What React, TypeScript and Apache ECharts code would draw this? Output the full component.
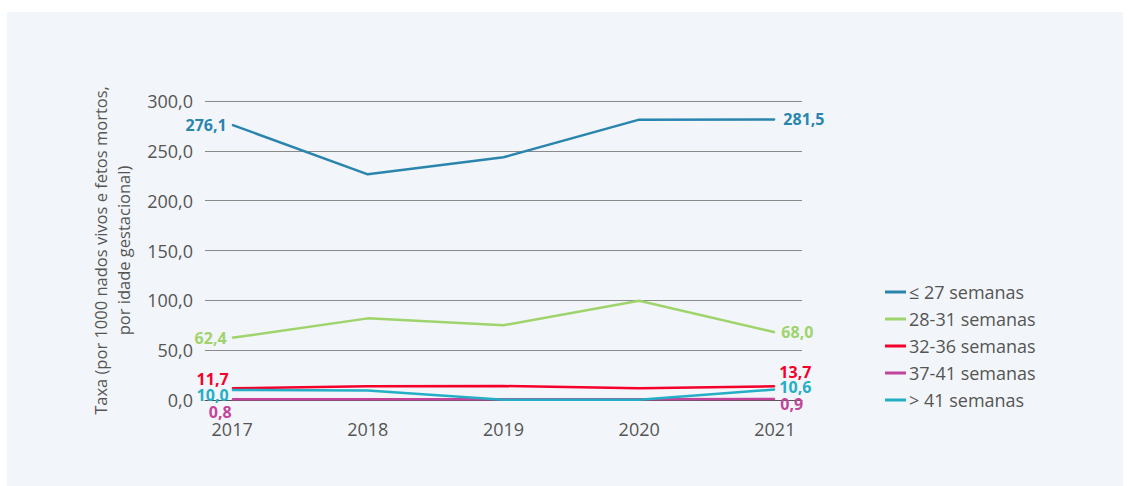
import React, { useEffect, useRef } from "react";
import * as echarts from "echarts";

const years = [2017, 2018, 2019, 2020, 2021];
const seriesNames = ["≤ 27 semanas", "28-31 semanas", "32-36 semanas", "37-41 semanas", "> 41 semanas"];
const s27 = [276.1, 226.4, 243.5, 281.3, 281.5];
const s2831 = [62.4, 81.9, 75.0, 99.6, 68.0];
const s3236 = [11.7, 13.8, 14.0, 11.8, 13.7];
const s3741 = [0.8, 0.8, 0.8, 0.8, 0.9];
const s41 = [10.0, 9.6, 0.2, 0.2, 10.6];
const yTicks = [0, 50, 100, 150, 200, 250, 300];

const colors = ["#2a85ae", "#9fd46c", "#f5002a", "#c2449b", "#25afc7"];
const values = [s27, s2831, s3236, s3741, s41];

// label placement for first / last points (style only)
const labelFirst: any[] = [
  { position: "left", distance: 5, offset: [0, 0] },
  { position: "left", distance: 5, offset: [0, 0] },
  { position: "left", distance: 3, offset: [0, -9] },
  { position: "left", distance: 3, offset: [3, 13] },
  { position: "left", distance: 3, offset: [0, 5] },
];
const labelLast: any[] = [
  { position: "right", distance: 8, offset: [0, 0] },
  { position: "right", distance: 6, offset: [0, 0] },
  { position: "right", distance: 4, offset: [0, -14] },
  { position: "right", distance: 5, offset: [0, 5] },
  { position: "right", distance: 4, offset: [0, -2] },
];

const fmt = (v: number) => v.toFixed(1).replace(".", ",");
const FONT = "'Open Sans', sans-serif";

export default function App() {
  const ref = useRef<HTMLDivElement>(null);
  useEffect(() => {
    document.body.style.margin = "0";
    const chart = echarts.init(ref.current!, null, { renderer: "svg" });
    const order = [0, 1, 2, 4, 3]; // draw magenta above cyan
    const series = order.map((si) => ({
      name: seriesNames[si],
      type: "line",
      symbol: "circle",
      symbolSize: 1,
      showSymbol: true,
      lineStyle: { color: colors[si], width: 2.5 },
      itemStyle: { color: colors[si] },
      z: 2 + si,
      data: years.map((y, i) => {
        const item: any = { value: [y, values[si][i]] };
        if (i === 0 || i === years.length - 1) {
          const p = i === 0 ? labelFirst[si] : labelLast[si];
          item.label = {
            show: true,
            formatter: fmt(values[si][i]),
            color: colors[si],
            fontWeight: "bold",
            fontSize: 16,
            fontFamily: FONT,
            ...p,
          };
        }
        return item;
      }),
    }));
    chart.setOption({
      animation: false,
      textStyle: { fontFamily: FONT },
      grid: { left: 205, right: 328, top: 101, bottom: 86 },
      xAxis: {
        type: "value",
        min: years[0] - 0.2,
        max: years[years.length - 1] + 0.2,
        splitLine: { show: false },
        axisTick: { show: false },
        axisLine: { show: true, lineStyle: { color: "#555", width: 1 } },
        axisLabel: {
          customValues: years,
          formatter: (v: number) => String(v),
          color: "#555",
          fontSize: 18,
          fontWeight: 500,
          fontFamily: FONT,
          margin: 20,
        },
      },
      yAxis: {
        type: "value",
        min: yTicks[0],
        max: yTicks[yTicks.length - 1],
        interval: 50,
        axisLine: { show: false },
        axisTick: { show: false },
        splitLine: { lineStyle: { color: "#8a8a8a", width: 1 } },
        axisLabel: {
          formatter: (v: number) => fmt(v),
          color: "#555",
          fontSize: 18,
          fontWeight: 500,
          fontFamily: FONT,
          margin: 12,
        },
        name: "Taxa (por 1000 nados vivos e fetos mortos,\npor idade gestacional)",
        nameLocation: "middle",
        nameGap: 70,
        nameTextStyle: { color: "#555", fontSize: 16.5, lineHeight: 23, fontFamily: FONT },
      },
      legend: {
        orient: "vertical",
        left: 880,
        top: 278,
        itemWidth: 21,
        itemHeight: 3,
        itemGap: 9,
        icon: "rect",
        data: seriesNames,
        textStyle: { color: "#555", fontSize: 18, fontWeight: 500, lineHeight: 18, fontFamily: FONT, padding: [0, 0, 0, -2] },
      },
      series,
    });
    return () => chart.dispose();
  }, []);
  return (
    <div style={{ position: "relative", width: 1130, height: 486, background: "#fff" }}>
      <div style={{ position: "absolute", left: 7, top: 12, width: 1116, height: 474, background: "#f2f5f9" }} />
      <div ref={ref} style={{ position: "absolute", left: 0, top: 0, width: 1130, height: 486 }} />
    </div>
  );
}
